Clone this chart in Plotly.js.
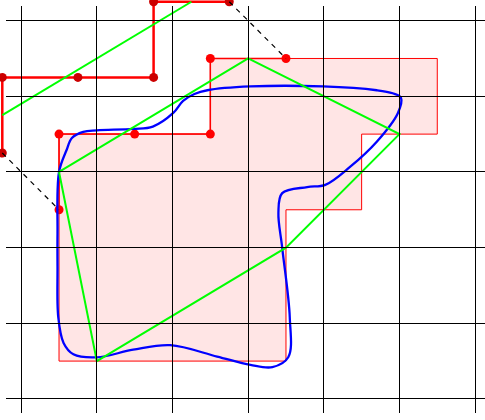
<!DOCTYPE html>
<html>
<head>
<meta charset="utf-8">
<script src="https://cdn.plot.ly/plotly-3.0.1.min.js"></script>
<style>html,body{margin:0;padding:0;background:#fff;}#chart{width:485px;height:420px;}</style>
</head>
<body>
<div id="chart"></div>
<script>
// Filled step region
var fillX = [0.5, 0.5, 3.5, 3.5, 4.5, 4.5, 5.5, 5.5, 2.5, 2.5, 0.5];
var fillY = [3.5, 0.5, 0.5, 2.5, 2.5, 3.5, 3.5, 4.5, 4.5, 3.5, 3.5];
// Red step line (original position)
var stepAX = [0.5, 0.5, 1.5, 2.5, 2.5, 3.5];
var stepAY = [2.5, 3.5, 3.5, 3.5, 4.5, 4.5];
// Red step line (moved copy)
var stepBX = [-0.25, -0.25, 0.75, 1.75, 1.75, 2.75];
var stepBY = [3.25, 4.25, 4.25, 4.25, 5.25, 5.25];
// Green polygon
var polyX = [0.5, 3, 5, 3.5, 1, 0.5];
var polyY = [3, 4.5, 3.5, 2, 0.5, 3];
// Green moved segment
var segX = [-0.25, 2.25];
var segY = [3.75, 5.25];
// Dashed connectors
var dashX = [-0.25, 0.5, null, 2.75, 3.5];
var dashY = [3.25, 2.5, null, 5.25, 4.5];
// Blue closed smooth curve
var curveX = [0.50,0.48,0.48,0.49,0.56,0.69,1.00,1.48,1.97,2.59,3.03,3.32,3.53,3.55,3.45,3.40,3.45,3.78,4.02,4.35,4.70,4.98,5.02,4.91,4.70,3.99,3.03,2.46,2.29,2.14,2.01,1.74,1.48,1.00,0.82,0.67,0.60,0.50];
var curveY = [3.00,2.19,1.74,1.08,0.74,0.59,0.55,0.65,0.71,0.56,0.45,0.42,0.55,1.08,2.00,2.46,2.72,2.80,2.83,3.07,3.40,3.78,3.98,4.04,4.08,4.13,4.13,4.08,4.03,3.94,3.78,3.60,3.57,3.55,3.53,3.45,3.29,3.00];

var S = 75.65, X0 = 21.2, Y0 = 398.9, W = 485, H = 420;
var common = {x: 'x', y: 'y', hoverinfo: 'skip', showlegend: false, cliponaxis: false};
function t(o){ return Object.assign({}, common, o); }

var data = [
  t({x: fillX, y: fillY, mode: 'lines', fill: 'toself', fillcolor: 'rgba(255,0,0,0.1)', line: {color: 'red', width: 1}}),
  t({x: stepAX, y: stepAY, mode: 'lines+markers', line: {color: 'red', width: 1.5}, marker: {color: 'red', size: 9}}),
  t({x: stepBX, y: stepBY, mode: 'lines+markers', line: {color: 'red', width: 2.5}, marker: {color: '#cc0000', size: 9}}),
  t({x: curveX, y: curveY, mode: 'lines', line: {color: 'blue', width: 2.3, shape: 'spline', smoothing: 1}}),
  t({x: polyX, y: polyY, mode: 'lines', line: {color: 'lime', width: 2}}),
  t({x: segX, y: segY, mode: 'lines', line: {color: 'lime', width: 2}}),
  t({x: dashX, y: dashY, mode: 'lines', line: {color: '#000', width: 1.2, dash: '5px,5px'}}),
  // invisible trace so the grid subplot exists
  {x: [0], y: [0], xaxis: 'x2', yaxis: 'y2', mode: 'markers', marker: {opacity: 0}, hoverinfo: 'skip', showlegend: false}
];

var hidden = {showticklabels: false, zeroline: false, showline: false, ticks: ''};
var layout = {
  width: W, height: H,
  margin: {l: 0, r: 0, t: 0, b: 0, pad: 0},
  paper_bgcolor: '#fff', plot_bgcolor: 'rgba(0,0,0,0)',
  xaxis2: Object.assign({}, hidden, {domain: [6 / W, 1], range: [(6 - X0) / S, (W - X0) / S], anchor: 'y2',
    showgrid: true, gridcolor: '#000', gridwidth: 1, tick0: 0, dtick: 1}),
  yaxis2: Object.assign({}, hidden, {domain: [(H - 413) / H, (H - 6) / H], range: [(Y0 - 413) / S, (Y0 - 6) / S], anchor: 'x2',
    showgrid: true, gridcolor: '#000', gridwidth: 1, tick0: 0, dtick: 1}),
  xaxis: Object.assign({}, hidden, {domain: [0, 1], range: [(0 - X0) / S, (W - X0) / S], anchor: 'y', showgrid: false}),
  yaxis: Object.assign({}, hidden, {domain: [0, 1], range: [(Y0 - H) / S, Y0 / S], anchor: 'x', showgrid: false})
};

Plotly.newPlot('chart', data, layout, {staticPlot: true});
</script>
</body>
</html>
